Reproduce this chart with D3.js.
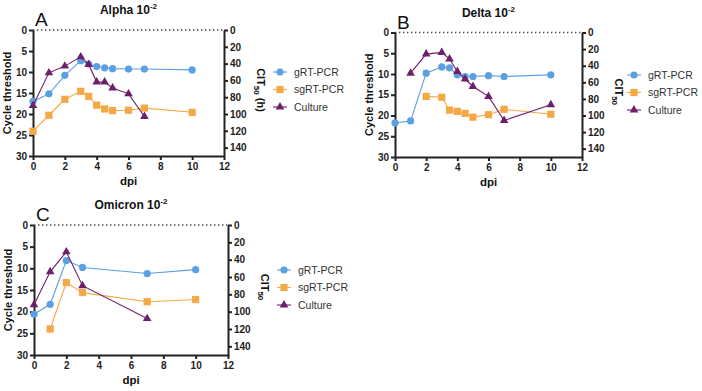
<!DOCTYPE html>
<html>
<head>
<meta charset="utf-8">
<script src="https://cdn.jsdelivr.net/npm/d3@7"></script>
<style>
  body { margin: 0; background: #fff; }
  svg { font-family: Arial, "Liberation Sans", sans-serif; }
</style>
</head>
<body>
<svg id="chart" width="702" height="391"></svg>
<script>
// values
var seriesNames = ["gRT-PCR", "sgRT-PCR", "Culture"];
var ctTicks = [0, 5, 10, 15, 20, 25, 30];
var citTicks = [0, 20, 40, 60, 80, 100, 120, 140];
var dpiTicks = [0, 2, 4, 6, 8, 10, 12];

var alphaGDpi = [0, 1, 2, 3, 3.5, 4, 4.5, 5, 6, 7, 10];
var alphaGCt = [17.0, 15.2, 10.8, 7.3, 8.1, 8.7, 9.0, 9.2, 9.3, 9.3, 9.5];
var alphaSgDpi = [0, 1, 2, 3, 3.5, 4, 4.5, 5, 6, 7, 10];
var alphaSgCt = [24.1, 20.3, 16.5, 14.6, 15.8, 17.9, 18.8, 19.2, 19.1, 18.6, 19.6];
var alphaCultDpi = [0, 1, 2, 3, 3.5, 4, 4.5, 5, 6, 7];
var alphaCultCit = [90, 51, 43, 32, 41, 62, 62, 69, 76, 103];

var deltaGDpi = [0, 1, 2, 3, 3.5, 4, 4.5, 5, 6, 7, 10];
var deltaGCt = [21.8, 21.3, 9.8, 8.3, 8.5, 10.2, 10.6, 10.6, 10.4, 10.6, 10.2];
var deltaSgDpi = [2, 3, 3.5, 4, 4.5, 5, 6, 7, 10];
var deltaSgCt = [15.4, 15.6, 18.7, 19.0, 19.5, 20.4, 19.8, 18.5, 19.7];
var deltaCultDpi = [1, 2, 3, 3.5, 4, 4.5, 5, 6, 7, 10];
var deltaCultCit = [49, 26, 24, 32, 47, 56, 65, 77, 106, 87];

var omicronGDpi = [0, 1, 2, 3, 7, 10];
var omicronGCt = [20.6, 18.3, 8.2, 9.8, 11.2, 10.3];
var omicronSgDpi = [1, 2, 3, 7, 10];
var omicronSgCt = [24.0, 13.3, 15.6, 17.7, 17.2];
var omicronCultDpi = [0, 1, 2, 3, 7];
var omicronCultCit = [92, 54, 31, 70, 108];

var colors = ["#5ba0e3", "#f5a846", "#6e1f6c"];

var panels = [
    { letter: "A", name: "Alpha", rightTitle: "(h)", x0: 33, x1: 224, y0: 30, y1: 156, legX: 56, legY: 42,
      g: [alphaGDpi, alphaGCt], sg: [alphaSgDpi, alphaSgCt], cult: [alphaCultDpi, alphaCultCit] },
    { letter: "B", name: "Delta", rightTitle: "", x0: 395, x1: 582, y0: 32.5, y1: 157, legX: 52, legY: 42.5,
      g: [deltaGDpi, deltaGCt], sg: [deltaSgDpi, deltaSgCt], cult: [deltaCultDpi, deltaCultCit] },
    { letter: "C", name: "Omicron", rightTitle: "", x0: 34, x1: 228, y0: 225, y1: 355, legX: 56, legY: 45,
      g: [omicronGDpi, omicronGCt], sg: [omicronSgDpi, omicronSgCt], cult: [omicronCultDpi, omicronCultCit] }
];

var svg = d3.select("#chart");

var drawMarker = (sel, kind, color) => {
    if (kind == 0) {
        sel.append("circle").attr("r", 3.6).attr("fill", color);
    } else if (kind == 1) {
        sel.append("rect").attr("x", -3.6).attr("y", -3.6).attr("width", 7.2).attr("height", 7.2).attr("fill", color);
    } else {
        sel.append("path").attr("d", d3.symbol().type(d3.symbolTriangle).size(32)).attr("fill", color);
    }
}

var styleAxis = (g) => {
    g.selectAll(".domain").attr("stroke", "#222").attr("stroke-width", 2);
    g.selectAll(".tick line").attr("stroke", "#222").attr("stroke-width", 2);
    g.selectAll(".tick text").attr("fill", "#222").style("font-size", "10px").style("font-weight", "bold");
}

panels.forEach(p => {
    var x = d3.scaleLinear().domain([0, 12]).range([p.x0, p.x1]);
    var y = d3.scaleLinear().domain([0, 30]).range([p.y0, p.y1]);
    var y2 = d3.scaleLinear().domain([0, 150]).range([p.y0, p.y1]);

    var root = svg.append("g");

    // dotted zero line
    root.append("line")
        .attr("x1", x(0)).attr("x2", x(12))
        .attr("y1", y(0)).attr("y2", y(0))
        .attr("stroke", "#444").attr("stroke-width", 1.4)
        .attr("stroke-dasharray", "1.4,2.6");

    var gx = root.append("g")
        .attr("transform", "translate(0," + p.y1 + ")")
        .call(d3.axisBottom(x).tickValues(dpiTicks).tickSize(4).tickSizeOuter(0).tickPadding(3));
    styleAxis(gx);

    var gy = root.append("g")
        .attr("transform", "translate(" + p.x0 + ",0)")
        .call(d3.axisLeft(y).tickValues(ctTicks).tickSize(4).tickSizeOuter(0).tickPadding(2));
    styleAxis(gy);

    var gy2 = root.append("g")
        .attr("transform", "translate(" + p.x1 + ",0)")
        .call(d3.axisRight(y2).tickValues(citTicks).tickSize(4).tickSizeOuter(0).tickPadding(2));
    styleAxis(gy2);

    // titles
    var t = root.append("text")
        .attr("x", (p.x0 + p.x1) / 2).attr("y", p.y0 - 16)
        .attr("text-anchor", "middle")
        .style("font-size", "12px").style("font-weight", "bold").attr("fill", "#111");
    t.append("tspan").text(p.name + " 10");
    t.append("tspan").attr("dy", -5).style("font-size", "8px").text("-2");

    root.append("text")
        .attr("x", p.x0 + 2).attr("y", p.y0 - 4)
        .style("font-size", "19px").attr("fill", "#111")
        .text(p.letter);

    root.append("text")
        .attr("transform", "translate(" + (p.x0 - 22) + "," + (p.y0 + p.y1) / 2 + ") rotate(-90)")
        .attr("text-anchor", "middle")
        .style("font-size", "11px").style("font-weight", "bold").attr("fill", "#111")
        .text("Cycle threshold");

    root.append("text")
        .attr("x", (p.x0 + p.x1) / 2).attr("y", p.y1 + 29)
        .attr("text-anchor", "middle")
        .style("font-size", "11.5px").style("font-weight", "bold").attr("fill", "#111")
        .text("dpi");

    var rt = root.append("text")
        .attr("transform", "translate(" + (p.x1 + 33) + "," + ((p.y0 + p.y1) / 2 - 3) + ") rotate(90)")
        .attr("text-anchor", "middle")
        .style("font-size", "11px").style("font-weight", "bold").attr("fill", "#111");
    rt.append("tspan").text("CIT");
    rt.append("tspan").attr("dy", 3).style("font-size", "8px").text("50");
    if (p.rightTitle) rt.append("tspan").attr("dy", -3).text(" " + p.rightTitle);

    // series: the two PCR series on the left axis, culture on the right one
    var series = [
        { pts: d3.zip(p.g[0], p.g[1]), ys: y },
        { pts: d3.zip(p.sg[0], p.sg[1]), ys: y },
        { pts: d3.zip(p.cult[0], p.cult[1]), ys: y2 }
    ];

    series.forEach((s, k) => {
        var line = d3.line().x(d => x(d[0])).y(d => s.ys(d[1]));
        root.append("path")
            .attr("d", line(s.pts))
            .attr("fill", "none")
            .attr("stroke", colors[k])
            .attr("stroke-width", 1.1);
        root.selectAll(".m" + k)
            .data(s.pts)
            .enter()
            .append("g")
            .attr("transform", d => "translate(" + x(d[0]) + "," + s.ys(d[1]) + ")")
            .each(function() { drawMarker(d3.select(this), k, colors[k]); });
    });

    // legend
    var lx = p.x1 + p.legX;
    var ly = p.y0 + p.legY;
    seriesNames.forEach((n, k) => {
        var lg = root.append("g").attr("transform", "translate(" + lx + "," + (ly + k * 17.5) + ")");
        lg.append("line").attr("x1", -7).attr("x2", 7).attr("stroke", colors[k]).attr("stroke-width", 1.1);
        drawMarker(lg, k, colors[k]);
        lg.append("text").attr("x", 14).attr("dy", "0.36em")
            .style("font-size", "10.5px").attr("fill", "#333").text(n);
    });
});
</script>
</body>
</html>
